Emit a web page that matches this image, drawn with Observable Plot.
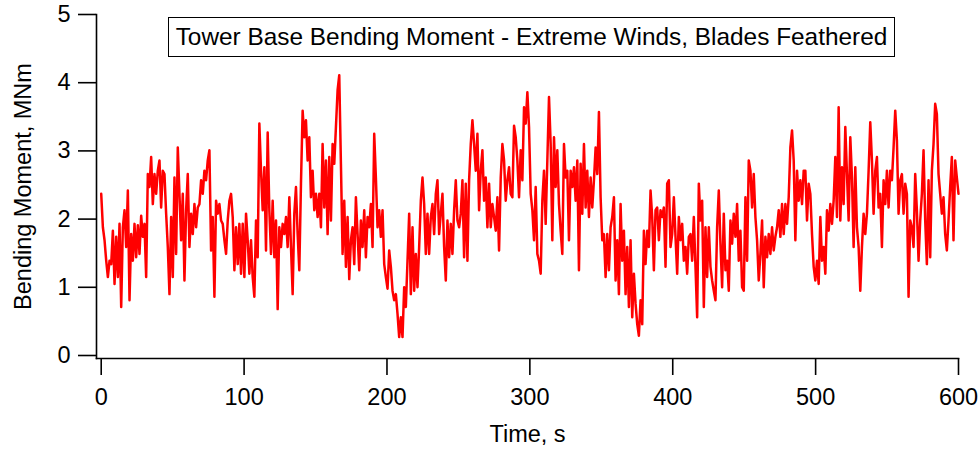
<!DOCTYPE html>
<html><head><meta charset="utf-8">
<script src="https://cdn.jsdelivr.net/npm/d3@7"></script>
<script src="https://cdn.jsdelivr.net/npm/@observablehq/plot@0.6"></script>
<style>
body{margin:0;background:#fff;}
#wrap{position:relative;width:980px;height:452px;font-family:"Liberation Sans",Arial,sans-serif;}
#title{position:absolute;left:168px;top:17px;width:727px;height:40px;border:1.5px solid #000;background:#fff;font-size:24.4px;line-height:37px;text-align:center;color:#000;white-space:nowrap;box-sizing:border-box;}
</style></head>
<body><div id="wrap"><div id="title">Tower Base Bending Moment - Extreme Winds, Blades Feathered</div></div>
<script>
const titleText = "Tower Base Bending Moment - Extreme Winds, Blades Feathered";
const xLabel = "Time, s";
const yLabel = "Bending Moment, MNm";
const xTicks = [0, 100, 200, 300, 400, 500, 600];
const yTicks = [0, 1, 2, 3, 4, 5];
const startTime = 0;
const endTime = 600;
// bending moment samples (MNm), evenly spaced in time from 0 to 600 s
const moment = [
2.37,1.88,1.69,1.39,1.15,1.39,1.34,1.83,1.05,1.74,
1.15,1.93,0.71,1.88,2.13,1.59,2.42,0.81,1.78,1.39,
1.93,1.44,1.91,1.49,2.05,1.74,1.93,1.15,2.66,2.47,
2.91,2.22,2.66,2.37,2.71,2.86,2.17,2.71,2.66,2.08,
1.59,0.90,2.03,1.15,2.61,1.49,3.05,2.37,1.69,2.37,
1.10,2.13,2.66,1.59,2.08,1.78,2.22,1.88,2.17,2.22,
2.57,2.37,2.71,2.57,2.86,3.01,1.54,2.03,0.86,2.27,
2.08,2.22,1.98,1.93,1.69,1.49,1.98,2.27,2.37,2.03,
1.25,1.88,1.34,1.93,1.20,1.93,1.15,2.08,
1.69,1.20,1.69,1.15,0.86,1.98,1.44,3.40,2.71,2.13,
2.76,1.54,3.27,2.13,1.49,2.27,1.44,1.98,0.68,1.88,
1.59,1.93,1.78,2.03,1.59,2.32,1.59,0.90,2.08,2.47,
1.78,1.25,2.52,3.59,3.20,3.45,2.86,3.20,2.32,2.71,
2.13,2.37,2.03,2.37,1.88,3.10,2.17,2.86,1.78,2.91,
1.98,3.10,2.81,3.35,3.89,4.11,2.81,1.49,2.27,1.30,
2.03,1.12,1.69,1.88,1.34,2.32,1.78,1.25,1.98,1.59,
2.13,1.44,2.03,1.88,2.22,1.59,3.25,2.61,1.88,2.13,
1.74,2.13,1.34,1.15,0.98,1.54,1.30,
0.95,0.81,0.90,0.61,0.27,0.56,0.27,1.00,0.71,1.39,
2.08,0.90,1.88,0.95,1.49,1.00,1.59,2.27,2.61,2.22,
1.49,2.08,1.49,2.03,2.22,1.78,2.37,2.57,1.78,2.08,
2.37,1.59,1.10,1.98,1.44,1.93,1.49,2.13,2.57,1.98,
1.88,2.08,2.57,1.44,2.52,1.39,2.57,3.10,3.45,3.10,
2.71,3.25,2.13,2.71,3.01,2.27,2.61,1.88,2.52,1.88,
2.22,2.03,1.83,2.32,1.54,2.61,3.10,2.86,2.27,2.57,
2.76,2.37,2.32,3.37,3.20,2.86,2.32,3.01,2.57,3.64,
3.40,3.86,3.35,2.37,2.13,1.69,2.47,
1.49,1.39,1.20,2.27,2.71,1.93,2.86,3.79,3.10,1.69,
3.20,2.47,3.01,2.22,1.83,1.49,3.10,2.61,2.71,1.69,
2.71,2.47,2.76,2.27,2.86,1.25,2.81,2.08,3.10,2.17,
2.71,2.03,2.61,2.17,2.57,3.05,2.66,3.57,2.32,1.69,
1.78,1.15,1.78,1.25,1.88,2.03,2.32,1.10,1.69,0.90,
2.22,1.39,1.83,0.90,1.59,0.71,1.69,0.56,1.20,0.76,
0.46,0.29,0.81,0.46,1.83,1.34,1.83,1.59,2.42,2.03,
1.25,2.13,2.17,1.69,2.13,2.03,2.17,1.30,2.52,2.57,
1.59,1.78,2.32,1.74,1.20,2.03,1.69,
1.93,1.39,1.59,1.20,1.74,1.78,1.39,2.03,1.30,0.56,
2.52,1.98,2.27,0.71,1.88,1.15,1.88,1.30,1.10,0.95,
0.81,1.88,2.42,1.64,1.00,2.08,1.25,1.39,0.95,1.98,
1.64,2.08,1.74,2.22,1.39,1.83,1.00,0.95,2.32,1.39,
2.86,2.71,2.17,2.66,2.03,1.69,1.10,1.49,1.98,1.00,
1.74,1.44,1.78,1.49,1.88,1.54,1.74,1.88,2.13,1.74,
2.22,1.78,2.22,1.93,2.32,3.05,3.30,2.86,1.69,2.71,
2.27,2.57,2.22,2.71,2.71,1.98,2.52,2.37,1.78,1.30,
1.10,1.39,1.05,2.03,1.39,1.59,1.20,
2.13,1.83,2.22,1.93,2.27,2.91,2.03,3.64,1.98,2.76,
2.22,3.35,2.66,1.98,3.20,2.61,1.59,2.76,1.88,1.59,
0.95,1.59,2.08,1.78,2.08,2.71,3.42,2.86,2.08,2.71,
2.91,2.17,2.37,1.59,2.57,2.22,2.71,2.17,2.71,2.57,
3.05,3.59,3.15,2.08,2.57,2.66,2.08,2.52,2.37,0.86,
1.98,1.88,1.59,2.66,2.13,1.39,1.98,2.37,3.01,1.98,
1.34,2.57,1.44,2.71,3.10,3.69,3.54,2.66,2.37,2.08,
2.32,1.78,1.54,1.98,2.47,2.91,1.69,2.86,2.61,2.37
];
const dt = (endTime - startTime) / (moment.length - 1);
const data = moment.map((v, i) => ({t: startTime + i * dt, v}));

const chart = Plot.plot({
  width: 980, height: 452,
  marginLeft: 96, marginRight: 22, marginTop: 14, marginBottom: 94,
  style: {fontFamily: "'Liberation Sans', Arial, sans-serif", fontSize: "23px", color: "#000", background: "#fff"},
  x: {domain: [-3.3, 600]},
  y: {domain: [-0.044, 5]},
  marks: [
    Plot.line(data, {x: "t", y: "v", stroke: "#ff0000", strokeWidth: 2.5, strokeLinejoin: "round"}),
    Plot.axisX({ticks: xTicks, tickSize: 17, tickPadding: 13, tickFormat: d => String(d), label: xLabel, labelAnchor: "center", labelOffset: 83, labelArrow: "none", fontSize: 23.5, strokeWidth: 1.6}),
    Plot.axisY({ticks: yTicks, tickSize: 18, tickPadding: 8, tickFormat: d => String(d), label: yLabel, labelAnchor: "center", labelOffset: 82, labelArrow: "none", fontSize: 23.5, strokeWidth: 1.6}),
    Plot.frame({anchor: "left", strokeWidth: 1.6}),
    Plot.frame({anchor: "bottom", strokeWidth: 1.6})
  ]
});
const wrap = document.getElementById("wrap");
wrap.insertBefore(chart, wrap.firstChild);
</script>
</body></html>
